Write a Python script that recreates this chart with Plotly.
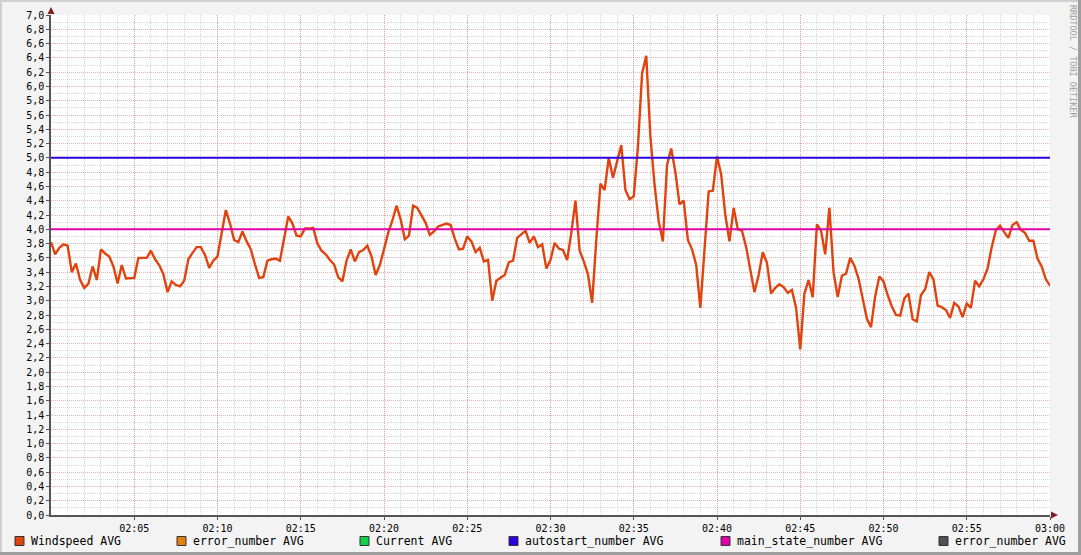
import pandas as pd
import plotly.graph_objects as go

# ---------------- data ----------------
START = "2024-01-01 02:00:00"
END = "2024-01-01 03:00:00"
STEP = "15s"

windspeed = [
    3.82, 3.65, 3.74, 3.79, 3.77, 3.40, 3.52, 3.29, 3.18, 3.24,
    3.48, 3.29, 3.72, 3.66, 3.62, 3.48, 3.24, 3.50, 3.31, 3.32,
    3.32, 3.60, 3.60, 3.60, 3.70, 3.58, 3.50, 3.37, 3.12, 3.27,
    3.22, 3.20, 3.28, 3.58, 3.67, 3.75, 3.75, 3.64, 3.46, 3.56,
    3.62, 3.93, 4.27, 4.08, 3.85, 3.82, 3.97, 3.83,
    3.72, 3.51, 3.32, 3.33, 3.56, 3.58, 3.59, 3.56, 3.87, 4.18,
    4.08, 3.91, 3.90, 4.01, 4.01, 4.02, 3.80, 3.70, 3.65, 3.57,
    3.51, 3.33, 3.27, 3.56, 3.72, 3.55, 3.68, 3.71, 3.77, 3.62,
    3.36, 3.50, 3.72, 3.95, 4.12, 4.33, 4.14, 3.86, 3.91, 4.33,
    4.30, 4.20, 4.09, 3.92, 3.97, 4.04, 4.06, 4.08,
    4.06, 3.87, 3.72, 3.73, 3.90, 3.83, 3.68, 3.74, 3.55, 3.57,
    3.00, 3.28, 3.32, 3.36, 3.54, 3.56, 3.88, 3.93, 3.98, 3.81,
    3.90, 3.75, 3.79, 3.45, 3.57, 3.81, 3.73, 3.71, 3.57, 3.95,
    4.40, 3.70, 3.55, 3.37, 2.97, 3.85, 4.64, 4.55, 5.00, 4.72,
    4.95, 5.18, 4.55, 4.42, 4.46, 5.15,
    6.18, 6.43, 5.30, 4.62, 4.11, 3.83, 4.90, 5.13, 4.80, 4.35,
    4.40, 3.85, 3.72, 3.50, 2.90, 3.65, 4.53, 4.54, 5.02, 4.77,
    4.20, 3.83, 4.30, 4.00, 3.98, 3.75, 3.46, 3.12, 3.36,
    3.68, 3.53, 3.10, 3.18, 3.23, 3.19, 3.11, 3.15, 2.90, 2.32,
    3.10, 3.29, 3.05, 4.07, 3.98, 3.65, 4.30, 3.40, 3.05, 3.35,
    3.38,
    3.60, 3.49, 3.31, 3.04, 2.75, 2.63, 3.06, 3.34, 3.27, 3.08,
    2.92, 2.80, 2.79, 3.03, 3.10, 2.74, 2.71, 3.08, 3.16, 3.40,
    3.30, 2.93, 2.91, 2.87, 2.76, 2.97, 2.92, 2.77, 2.96, 2.90,
    3.28, 3.20, 3.30, 3.45, 3.75, 3.99, 4.05, 3.96, 3.88, 4.06,
    4.10, 3.99, 3.95, 3.84, 3.84, 3.59, 3.48, 3.30, 3.21,
]
autostart_number = 5.0
main_state_number = 4.0

series_names = ["Windspeed AVG", "error_number AVG", "Current AVG",
                "autostart_number AVG", "main_state_number AVG", "error_number AVG"]
series_colors = ["#E2420E", "#E5800F", "#12D14A", "#2C00E0", "#E000A8", "#505050"]

x_tick_labels = ["02:05", "02:10", "02:15", "02:20", "02:25", "02:30",
                 "02:35", "02:40", "02:45", "02:50", "02:55", "03:00"]
y_max = 7.0

# ---------------- layout helpers ----------------
W, H = 1081, 555
L, R, T, B = 51, 1050, 15, 515          # plot area in pixels
def fx(px): return (px - L) / (R - L)
def fy(py): return (B - py) / (B - T)

LEGEND_BOX_X = [15, 177, 360, 509, 721, 939]
LEGEND_Y = 541
FONT = "DejaVu Sans Mono"

times = pd.date_range(START, periods=len(windspeed), freq=STEP)
tick_vals = [pd.Timestamp(f"2024-01-01 {t}:00") for t in x_tick_labels]

fig = go.Figure()
fig.add_trace(go.Scatter(x=times, y=windspeed, mode="lines", name=series_names[0],
                         line=dict(color=series_colors[0], width=2.4), showlegend=False))
fig.add_trace(go.Scatter(x=[START, END], y=[autostart_number, autostart_number], mode="lines",
                         name=series_names[3], line=dict(color=series_colors[3], width=2),
                         showlegend=False))
fig.add_trace(go.Scatter(x=[START, END], y=[main_state_number, main_state_number], mode="lines",
                         name=series_names[4], line=dict(color=series_colors[4], width=2),
                         showlegend=False))

minor_grid = "rgba(150,150,150,0.38)"
major_grid = "rgba(222,79,79,0.45)"

fig.update_xaxes(
    type="date", range=[START, END], tickmode="array", tickvals=tick_vals, ticktext=x_tick_labels,
    showgrid=True, gridcolor=major_grid, griddash="1px,1px", gridwidth=1,
    minor=dict(dtick=60000, tick0=START, showgrid=True, gridcolor=minor_grid,
               griddash="1px,1px", gridwidth=1, ticks=""),
    showline=True, linecolor="#555555", linewidth=1.5,
    ticks="outside", ticklen=3, tickcolor="#555555", tickwidth=1,
    tickfont=dict(family=FONT, size=10, color="#000000"),
    zeroline=False, automargin=False, fixedrange=True,
)
fig.update_yaxes(
    range=[0, y_max], tick0=0, dtick=0.2, tickformat=".1f",
    showgrid=True, gridcolor=major_grid, griddash="1px,1px", gridwidth=1,
    minor=dict(dtick=0.1, tick0=0, showgrid=True, gridcolor=minor_grid,
               griddash="1px,1px", gridwidth=1, ticks=""),
    showline=True, linecolor="#555555", linewidth=1.5,
    ticks="outside", ticklen=3, tickcolor="#555555", tickwidth=1,
    tickfont=dict(family=FONT, size=10, color="#000000"),
    zeroline=False, automargin=False, fixedrange=True,
)

shapes = []
# outer 3D frame
shapes.append(dict(type="line", xref="paper", yref="paper", x0=fx(1), x1=fx(1), y0=fy(0), y1=fy(H),
                   line=dict(color="#CFCFCF", width=2)))
shapes.append(dict(type="line", xref="paper", yref="paper", x0=fx(0), x1=fx(W), y0=fy(1), y1=fy(1),
                   line=dict(color="#CFCFCF", width=2)))
shapes.append(dict(type="line", xref="paper", yref="paper", x0=fx(W - 1.5), x1=fx(W - 1.5), y0=fy(0), y1=fy(H),
                   line=dict(color="#9E9E9E", width=3)))
shapes.append(dict(type="line", xref="paper", yref="paper", x0=fx(0), x1=fx(W), y0=fy(H - 1.5), y1=fy(H - 1.5),
                   line=dict(color="#9E9E9E", width=3)))
# axis arrows
shapes.append(dict(type="path", xref="paper", yref="paper",
                   path=f"M {fx(L)},{fy(T - 8)} L {fx(L - 3.5)},{fy(T - 1)} L {fx(L + 3.5)},{fy(T - 1)} Z",
                   fillcolor="#801F1F", line=dict(color="#801F1F", width=0)))
shapes.append(dict(type="path", xref="paper", yref="paper",
                   path=f"M {fx(R + 8)},{fy(B)} L {fx(R + 1)},{fy(B - 3.5)} L {fx(R + 1)},{fy(B + 3.5)} Z",
                   fillcolor="#801F1F", line=dict(color="#801F1F", width=0)))

annotations = []
for name, color, bx in zip(series_names, series_colors, LEGEND_BOX_X):
    shapes.append(dict(type="rect", xref="paper", yref="paper",
                       x0=fx(bx), x1=fx(bx + 9), y0=fy(LEGEND_Y - 4.5), y1=fy(LEGEND_Y + 4.5),
                       fillcolor=color, line=dict(color="#333333", width=1)))
    annotations.append(dict(text=name, xref="paper", yref="paper", x=fx(bx + 14), y=fy(LEGEND_Y),
                            xanchor="left", yanchor="middle", showarrow=False,
                            font=dict(family=FONT, size=11.5, color="#000000")))

annotations.append(dict(text="RRDTOOL / TOBI OETIKER", xref="paper", yref="paper",
                        x=fx(1073), y=fy(61), xanchor="center", yanchor="middle",
                        textangle=90, showarrow=False,
                        font=dict(family=FONT, size=8.5, color="#A0A0A0")))

fig.update_layout(
    width=W, height=H,
    margin=dict(l=L, r=W - R, t=T, b=H - B, pad=0),
    paper_bgcolor="#F3F3F3", plot_bgcolor="#FFFFFF",
    showlegend=False, shapes=shapes, annotations=annotations,
    separators=",.",
    font=dict(family=FONT, size=10, color="#000000"),
)

fig.write_html("out.html", config={"displayModeBar": False},
               post_script="document.body.style.margin='0';document.body.style.overflow='hidden';")
